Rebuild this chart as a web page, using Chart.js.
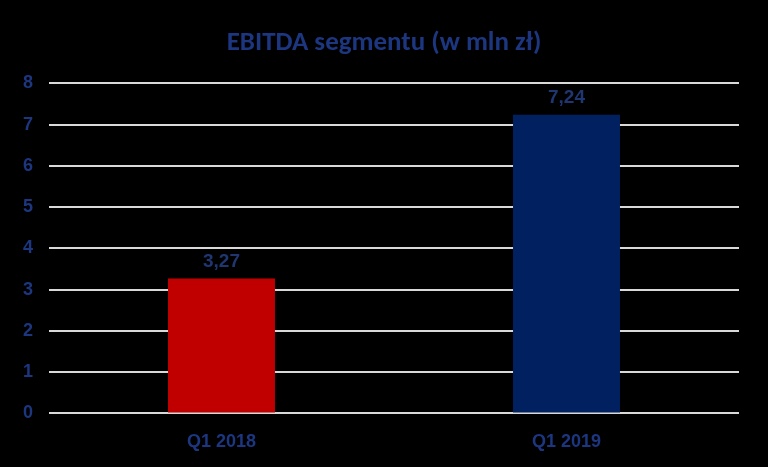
<!DOCTYPE html>
<html>
<head>
<meta charset="utf-8">
<script src="https://cdn.jsdelivr.net/npm/chart.js@4"></script>
<style>
  html, body { margin: 0; padding: 0; background: #000; }
  #wrap { width: 768px; height: 467px; }
</style>
</head>
<body>
<div id="wrap"><canvas id="chart"></canvas></div>
<script>
// Chart data
const categories = ['Q1 2018', 'Q1 2019'];
const ebitdaValues = [3.27, 7.24];
const barColors = ['#C00000', '#002060'];

const textColor = '#1c3680';

// Draws the value above each bar, Polish decimal comma
const valueLabels = {
  id: 'valueLabels',
  afterDatasetsDraw(chart) {
    const ctx = chart.ctx;
    const meta = chart.getDatasetMeta(0);
    ctx.save();
    ctx.fillStyle = '#1f3670';
    ctx.font = 'bold 19px "Liberation Sans", Arial, sans-serif';
    ctx.textAlign = 'center';
    ctx.textBaseline = 'middle';
    meta.data.forEach((bar, i) => {
      const label = ebitdaValues[i].toFixed(2).replace('.', ',');
      ctx.fillText(label, bar.x, bar.y - 17);
    });
    ctx.restore();
  }
};

new Chart(document.getElementById('chart'), {
  type: 'bar',
  data: {
    labels: categories,
    datasets: [{
      data: ebitdaValues,
      backgroundColor: barColors,
      categoryPercentage: 1,
      barPercentage: 0.31
    }]
  },
  options: {
    responsive: true,
    maintainAspectRatio: false,
    animation: false,
    layout: {
      padding: { left: 0, right: 0, top: 0, bottom: 4 }
    },
    plugins: {
      legend: { display: false },
      tooltip: { enabled: false },
      title: {
        display: true,
        text: 'EBITDA segmentu (w mln zł)',
        color: textColor,
        font: { family: 'Calibri, "Carlito", "Open Sans", sans-serif', size: 27, weight: 'bold' },
        padding: { top: 27, bottom: 24 }
      }
    },
    scales: {
      x: {
        grid: { display: false },
        border: { display: false },
        ticks: {
          color: textColor,
          padding: 10,
          font: { family: '"Liberation Sans", Arial, sans-serif', size: 18, weight: 'bold' }
        }
      },
      y: {
        min: 0,
        max: 8,
        afterFit(scale) { scale.width = 49; },
        border: { display: false },
        grid: { color: '#d9d9d9', lineWidth: 2, drawTicks: false },
        ticks: {
          stepSize: 1,
          color: textColor,
          padding: 16,
          font: { family: '"Liberation Sans", Arial, sans-serif', size: 18, weight: 'bold' }
        }
      },
      // empty spacer on the right so the title stays centred on the page
      spacer: {
        position: 'right',
        afterFit(scale) { scale.width = 29; },
        grid: { display: false },
        border: { display: false },
        ticks: { display: false }
      }
    }
  },
  plugins: [valueLabels]
});
</script>
</body>
</html>
